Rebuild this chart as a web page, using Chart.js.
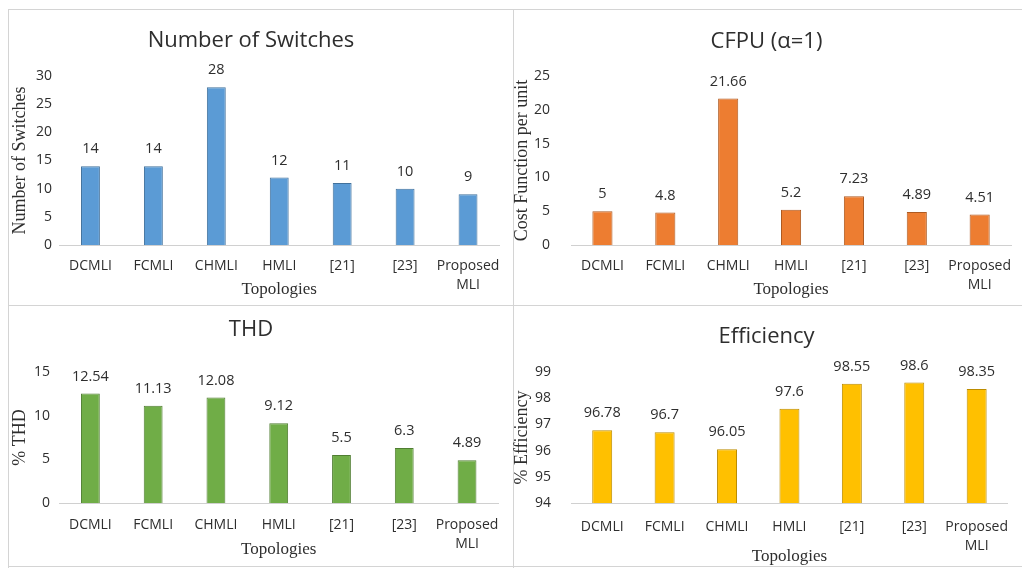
<!DOCTYPE html>
<html>
<head>
<meta charset="utf-8">
<script src="https://cdn.jsdelivr.net/npm/chart.js@4"></script>
<style>
  body { margin: 0; background: #fff; }
  #page { position: relative; width: 1022px; height: 568px; overflow: hidden; background: #fff; }
  .box { position: absolute; }
  .line { position: absolute; background: #d4d4d4; }
</style>
</head>
<body>
<div id="page">
  <div class="line" style="left:8px;top:9px;width:1014px;height:1px"></div>
  <div class="line" style="left:8px;top:9px;width:1px;height:559px"></div>
  <div class="line" style="left:513px;top:9px;width:1px;height:559px"></div>
  <div class="line" style="left:8px;top:305px;width:1014px;height:1px"></div>
  <div class="line" style="left:8px;top:566px;width:1014px;height:1px"></div>

  <div class="box" style="left:0;top:0;width:511px;height:305px"><canvas id="c1"></canvas></div>
  <div class="box" style="left:511px;top:0;width:511px;height:305px"><canvas id="c2"></canvas></div>
  <div class="box" style="left:0;top:305px;width:511px;height:263px"><canvas id="c3"></canvas></div>
  <div class="box" style="left:511px;top:305px;width:511px;height:263px"><canvas id="c4"></canvas></div>
</div>
<script>
let topologies = ["DCMLI", "FCMLI", "CHMLI", "HMLI", "[21]", "[23]", ["Proposed", "MLI"]]

let switches = [14, 14, 28, 12, 11, 10, 9]
let cfpu = [5, 4.8, 21.66, 5.2, 7.23, 4.89, 4.51]
let thd = [12.54, 11.13, 12.08, 9.12, 5.5, 6.3, 4.89]
let efficiency = [96.78, 96.7, 96.05, 97.6, 98.55, 98.6, 98.35]

let sans = "'Open Sans', sans-serif"
let serif = "'Liberation Serif', 'Times New Roman', serif"
let textColor = "#2e2e2e"

// draws the value above every bar
let barLabels = {
    id: "barLabels",
    afterDatasetsDraw(chart) {
        let ctx = chart.ctx
        let meta = chart.getDatasetMeta(0)
        let values = chart.data.datasets[0].data
        ctx.save()
        ctx.font = "14.5px " + sans
        ctx.fillStyle = textColor
        ctx.textAlign = "center"
        ctx.textBaseline = "middle"
        meta.data.forEach((bar, i) => {
            ctx.fillText(values[i], bar.x, bar.y - 17)
        })
        ctx.restore()
    }
}

function makeChart(id, opt) {
    return new Chart(document.getElementById(id), {
        type: "bar",
        data: {
            labels: topologies,
            datasets: [{
                data: opt.data,
                backgroundColor: opt.fill,
                borderColor: opt.edge,
                borderWidth: 1,
                barPercentage: opt.barPct,
                categoryPercentage: 1
            }]
        },
        options: {
            responsive: true,
            maintainAspectRatio: false,
            animation: false,
            layout: { padding: { left: 0, right: opt.padRight, top: 0, bottom: 0 } },
            plugins: {
                legend: { display: false },
                tooltip: { enabled: false },
                title: {
                    display: true,
                    text: opt.title,
                    color: textColor,
                    font: { family: sans, size: 22, weight: "normal", lineHeight: 1.2 },
                    padding: { top: opt.titleTop, bottom: opt.titleBottom }
                }
            },
            scales: {
                x: {
                    grid: { display: false, drawTicks: false },
                    border: { display: true, color: "#d0d0d0", width: 1 },
                    ticks: {
                        color: textColor,
                        font: { family: sans, size: 14, lineHeight: 1.4 },
                        padding: opt.xTickPad,
                        maxRotation: 0,
                        autoSkip: false
                    },
                    title: {
                        display: true,
                        text: "Topologies",
                        color: textColor,
                        font: { family: serif, size: 17, lineHeight: 1.2 },
                        padding: { top: 0, bottom: opt.xTitleBottom }
                    },
                    afterFit: s => { s.height = opt.xHeight }
                },
                y: {
                    min: opt.min,
                    max: opt.max,
                    grid: { display: false, drawTicks: false },
                    border: { display: false },
                    ticks: {
                        stepSize: opt.step,
                        color: textColor,
                        font: { family: sans, size: 14 },
                        padding: opt.yTickPad
                    },
                    title: {
                        display: true,
                        text: opt.yTitle,
                        color: textColor,
                        font: { family: serif, size: 18, lineHeight: 1.2 },
                        padding: { top: opt.yTitlePad, bottom: 0 }
                    },
                    afterFit: s => { s.width = opt.yWidth }
                }
            }
        },
        plugins: [barLabels]
    })
}

makeChart("c1", {
    data: switches, title: "Number of Switches", yTitle: "Number of Switches",
    fill: "#5B9BD5", edge: "#41719C", barPct: 0.3,
    min: 0, max: 30, step: 5,
    padRight: 9, titleTop: 28, titleBottom: 21.6,
    xHeight: 60, xTickPad: 11, xTitleBottom: 5,
    yWidth: 59, yTickPad: 7, yTitlePad: 9
})

makeChart("c2", {
    data: cfpu, title: "CFPU (\u03b1=1)", yTitle: "Cost Function per unit",
    fill: "#ED7D31", edge: "#AE5A21", barPct: 0.32,
    min: 0, max: 25, step: 5,
    padRight: 0, titleTop: 29, titleBottom: 20.6,
    xHeight: 60, xTickPad: 11, xTitleBottom: 5,
    yWidth: 60, yTickPad: 21, yTitlePad: 0
})

makeChart("c3", {
    data: thd, title: "THD", yTitle: "% THD",
    fill: "#70AD47", edge: "#507E32", barPct: 0.3,
    min: 0, max: 15, step: 5,
    padRight: 9, titleTop: 12, titleBottom: 28.6,
    xHeight: 65, xTickPad: 12, xTitleBottom: 8,
    yWidth: 59, yTickPad: 9, yTitlePad: 9
})

makeChart("c4", {
    data: efficiency, title: "Efficiency", yTitle: "% Efficiency",
    fill: "#FFC000", edge: "#BC8C00", barPct: 0.32,
    min: 94, max: 99, step: 1,
    padRight: 0, titleTop: 19, titleBottom: 21.6,
    xHeight: 65, xTickPad: 14, xTitleBottom: 1,
    yWidth: 60, yTickPad: 20, yTitlePad: 0
})
</script>
</body>
</html>
